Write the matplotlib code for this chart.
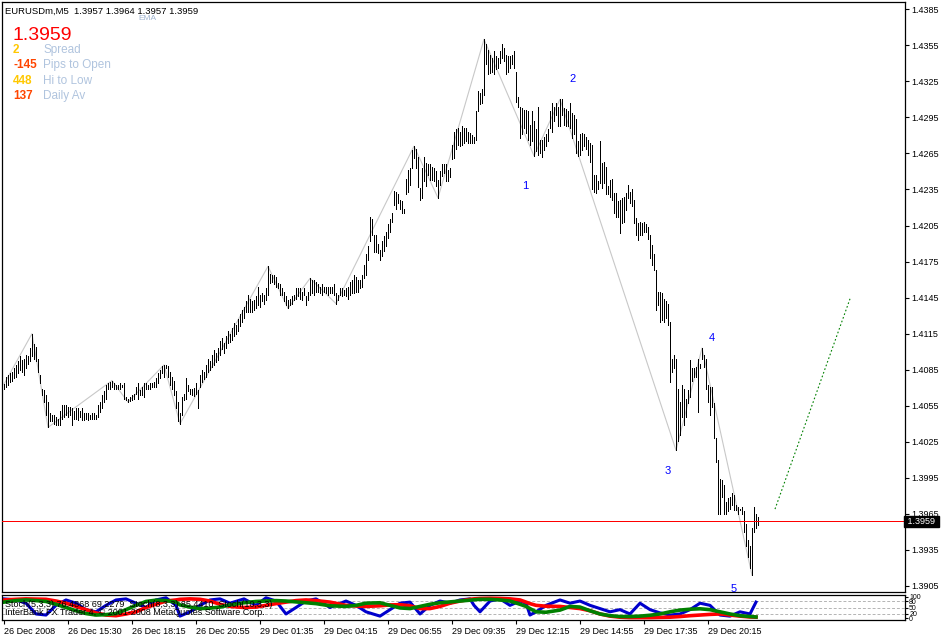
import numpy as np
import matplotlib.pyplot as plt

plt.rcParams['font.family'] = ['Liberation Sans', 'DejaVu Sans']

# price data in pips above BASE (EURUSD, M5 bars)
BASE = 1.3900
highs = [173, 179, 181, 182, 183, 186, 189, 192, 196, 193, 194, 197, 196, 203, 215, 206, 204, 194, 181, 169,
         168, 164, 158, 149, 147, 147, 146, 144, 151, 156, 156, 156, 154, 154, 153, 151, 153, 153, 151, 153,
         149, 149, 149, 147, 149, 149, 147, 156, 158, 164, 167, 172, 174, 175, 176, 174, 172, 172, 174, 172,
         174, 162, 161, 162, 164, 165, 171, 174, 168, 171, 174, 174, 172, 174, 174, 175, 178, 182, 185, 188,
         189, 189, 188, 183, 179, 176, 167, 158, 149, 162, 165, 178, 172, 169, 169,
         170, 174, 168, 181, 185, 183, 189, 194, 192, 197, 201, 199, 203, 209, 211, 207, 213, 217, 215, 220,
         224, 222, 227, 231, 235, 237,
         242, 247, 244, 242, 243, 246, 254, 247, 249, 247, 253, 271, 265, 264, 264, 262, 257, 256, 253, 250,
         246, 243, 244, 246, 247, 253, 253, 253, 250, 253, 246, 250, 261, 260, 260, 258, 256, 254, 256, 254,
         254, 254, 254, 254, 256, 249, 247, 253, 253, 251, 253, 254, 258, 260, 264, 262, 260, 260, 264, 272,
         281, 288, 312, 310, 297, 297, 290, 285,
         292, 296, 300, 306, 310,
         315, 334, 333, 331, 326, 325, 319, 344, 351, 353, 368, 371, 369, 362, 336, 353, 362, 357, 356, 356,
         354, 353, 350, 343, 350, 356, 356, 356, 351, 353, 372, 383, 385, 386, 383, 388, 386, 386, 383, 382,
         380, 379, 400, 417, 415, 419, 460, 456, 451, 447, 444, 450, 446, 444, 450, 456, 453, 447, 446, 446,
         447, 450, 433, 412, 404, 403, 401, 401, 400, 389, 400, 392, 385, 404, 376, 376, 379, 381, 385, 400,
         407, 404, 407, 404, 410, 410, 403, 402, 400, 407,
         399, 397, 394, 375, 381, 382, 381, 379, 376, 374, 372, 347, 347, 342, 375, 357, 358, 354, 338, 343,
         344, 332, 332, 325, 326, 328, 329, 332, 339, 333, 335, 326, 311, 307, 308, 307, 308, 306, 304, 297,
         289, 281, 268, 250, 250, 249, 244, 242, 240, 225, 194, 197, 194, 169, 158, 172, 169, 161, 168, 193,
         186, 186, 187, 194, 190, 203, 197, 194, 172, 171, 171, 157, 128, 110, 94, 93, 89, 75, 78, 79,
         82, 81, 72, 71, 69, 71, 67, 57, 43, 38, 53, 71, 65, 62]
lows = [169, 171, 172, 175, 176, 178, 179, 182, 185, 183, 181, 186, 190, 192, 196, 194, 192, 183, 174, 164,
        158, 147, 137, 142, 142, 140, 139, 139, 139, 144, 146, 147, 146, 147, 139, 144, 144, 143, 146, 143,
        143, 144, 143, 144, 144, 144, 144, 146, 150, 153, 158, 161, 169, 169, 171, 169, 169, 169, 169, 171,
        161, 160, 158, 159, 160, 161, 165, 161, 164, 164, 162, 169, 169, 169, 171, 171, 171, 174, 178, 182,
        179, 186, 179, 172, 169, 164, 153, 142, 140, 147, 160, 161, 167, 165, 164,
        163, 165, 153, 171, 175, 177, 179, 183, 185, 187, 189, 191, 193, 197, 202, 199, 203, 207, 208, 210,
        213, 215, 217, 221, 225, 228,
        233, 233, 233, 233, 235, 236, 239, 237, 242, 240, 243, 247, 257, 258, 256, 254, 253, 247, 247, 242,
        239, 236, 239, 240, 243, 244, 246, 244, 243, 247, 239, 243, 247, 249, 247, 250, 250, 249, 247, 250,
        249, 247, 249, 249, 247, 240, 243, 247, 246, 247, 246, 244, 247, 249, 249, 250, 250, 253, 254, 261,
        264, 276, 292, 297, 283, 283, 282, 276,
        280, 284, 288, 295, 300,
        308, 322, 319, 324, 319, 315, 315, 331, 333, 339, 353, 361, 353, 337, 326, 328, 342, 338, 347, 343,
        343, 342, 338, 328, 339, 346, 349, 342, 342, 345, 360, 361, 369, 372, 371, 372, 374, 375, 374, 374,
        374, 374, 376, 400, 406, 407, 414, 439, 431, 432, 433, 431, 435, 436, 440, 444, 442, 431, 433, 436,
        439, 436, 408, 404, 378, 381, 386, 382, 376, 372, 375, 363, 367, 364, 365, 362, 368, 371, 375, 386,
        383, 392, 397, 388, 388, 397, 389, 388, 388, 386,
        378, 381, 365, 363, 364, 368, 371, 369, 364, 358, 335, 333, 332, 335, 340, 336, 340, 331, 331, 329,
        326, 315, 312, 312, 299, 307, 308, 318, 328, 324, 321, 307, 297, 293, 297, 297, 300, 300, 294, 278,
        272, 268, 235, 239, 225, 226, 225, 228, 222, 175, 183, 186, 118, 126, 131, 146, 139, 146, 157, 162,
        176, 179, 179, 150, 186, 194, 187, 169, 158, 147, 154, 128, 108, 65, 65, 79, 65, 65, 67, 69,
        72, 68, 68, 65, 68, 65, 50, 38, 29, 20, 14, 50, 53, 56]

# zigzag pivots (bar index, high/low)
zz_bars = [0, 14, 22, 54, 62, 80, 88, 132, 142, 153, 166, 205, 217, 240, 265, 278, 336, 349, 374]
zz_kind = ['H', 'H', 'L', 'H', 'L', 'H', 'L', 'H', 'L', 'H', 'L', 'H', 'L', 'H', 'L', 'H', 'L', 'H', 'L']

# elliott wave labels (bar, pips)
wave_text = ['1', '2', '3', '4', '5']
wave_bar = [260.5, 284.5, 332, 354, 365]
wave_pip = [338, 427, 101, 211, 2.5]

# projected move (bar, pips)
proj_bar = [385.5, 423]
proj_pip = [69, 244]

current_price = 1.3959
price_ticks = [1.3905 + 0.003 * k for k in range(17)]

time_labels = ['26 Dec 2008', '26 Dec 15:30', '26 Dec 18:15', '26 Dec 20:55', '29 Dec 01:35',
               '29 Dec 04:15', '29 Dec 06:55', '29 Dec 09:35', '29 Dec 12:15', '29 Dec 14:55',
               '29 Dec 17:35', '29 Dec 20:15']
time_bars = [0, 32, 64, 96, 128, 160, 192, 224, 256, 288, 320, 352]

# stochastic lines (sampled bars, values 0-100)
st_bars = [0, 6, 11, 16, 21, 26, 31, 36, 41, 46, 51, 56, 61, 66, 71, 76, 81, 86, 88, 93, 98, 103, 108, 113,
           120, 126, 131, 136, 141, 146, 151, 156, 163, 171, 176, 181, 188, 193, 198, 203, 208, 213, 218, 223,
           228, 233, 235, 238, 243, 248, 253, 258, 261, 263, 266, 271, 278, 283, 288, 293, 298, 303, 308, 313,
           318, 323, 328, 333, 338, 343, 348, 353, 358, 363, 368, 373, 376]
st_blue = [90, 85, 70, 20, 15, 60, 85, 70, 40, 30, 60, 85, 90, 70, 50, 85, 95, 60, 10, 30, 60, 85, 90, 70,
           90, 60, 95, 80, 20, 50, 80, 90, 50, 80, 60, 30, 10, 40, 70, 75, 20, 60, 80, 70, 85, 90, 60, 30, 80,
           90, 60, 80, 70, 15, 30, 60, 85, 70, 80, 60, 45, 30, 40, 20, 70, 40, 25, 15, 20, 40, 70, 60, 15, 10,
           30, 20, 75]
st_red = [85, 88, 90, 89, 88, 80, 70, 55, 40, 25, 15, 12, 20, 30, 50, 65, 80, 85, 88, 90, 88, 80, 65, 55,
          50, 52, 60, 68, 75, 82, 85, 82, 75, 60, 57, 55, 58, 62, 63, 58, 45, 45, 55, 70, 80, 88, 90, 92, 93,
          92, 90, 85, 75, 68, 60, 56, 55, 50, 45, 35, 20, 10, 5, 3, 3, 3, 4, 5, 8, 12, 15, 18, 20, 15, 10, 6, 5]
st_green = [75, 82, 85, 82, 78, 65, 50, 35, 22, 15, 17, 22, 40, 60, 78, 84, 82, 75, 62, 52, 45, 47, 52, 62,
            72, 78, 80, 82, 80, 76, 72, 68, 58, 55, 60, 70, 72, 60, 48, 45, 55, 65, 72, 76, 80, 84, 86, 88, 88,
            85, 80, 65, 55, 45, 30, 28, 38, 55, 52, 35, 20, 12, 8, 8, 10, 14, 20, 30, 38, 42, 44, 40, 30, 20,
            12, 8, 6]


def pips(p):
    return BASE + np.asarray(p, dtype=float) / 10000.0


fig = plt.figure(figsize=(9.43, 6.36), dpi=100)
W, H = 943.0, 636.0
ax = fig.add_axes([2 / W, 44 / H, 903 / W, 590 / H])
ind = fig.add_axes([2 / W, 16 / H, 903 / W, 25 / H], sharex=ax)

n = len(highs)
x = np.arange(n)
hi = pips(highs)
lo = pips(lows)

# zigzag
zz_y = [hi[b] if k == 'H' else lo[b] for b, k in zip(zz_bars, zz_kind)]
ax.plot(zz_bars, zz_y, color='#c8c8c8', lw=0.8, zorder=1)

# bars, 1 px wide
ax.vlines(x, lo, hi, color='black', lw=0.72, antialiased=False, zorder=2)

ax.axhline(current_price, color='#ff0000', lw=0.72, antialiased=False, zorder=3)
ax.plot(proj_bar, pips(proj_pip), color='green', lw=0.8, ls=(0, (1.5, 2)), zorder=3)

for t, b, p in zip(wave_text, wave_bar, wave_pip):
    ax.text(b, pips(p), t, color='blue', fontsize=8, ha='center', va='center')

ax.set_xlim(-1, 450.5)
ax.set_ylim(1.3900, 1.4391)
ax.yaxis.tick_right()
ax.set_yticks(price_ticks)
ax.set_yticklabels(['%.4f' % v for v in price_ticks])
ax.tick_params(axis='y', labelsize=6.5, length=3, width=0.8, pad=1.5)
ax.tick_params(axis='x', bottom=False, labelbottom=False)
for s in ax.spines.values():
    s.set_linewidth(0.9)
ax.text(1.0, current_price, ' 1.3959 ', transform=ax.get_yaxis_transform(), color='white',
        fontsize=6.5, ha='left', va='center', zorder=5,
        bbox=dict(facecolor='black', edgecolor='black', pad=0.8))

# indicator window
for lvl in [80, 50, 20]:
    ind.axhline(lvl, color='#b4b4b4', lw=0.7, ls=(0, (3, 2)))
ind.plot(st_bars, st_blue, color='#0000cc', lw=2.2)
ind.plot(st_bars, st_red, color='#ff0000', lw=2.6)
ind.plot(st_bars, st_green, color='#008000', lw=2.6)
ind.set_ylim(-8, 108)
ind.yaxis.tick_right()
ind.set_yticks([100, 80, 50, 20, 0])
ind.set_yticklabels(['100', '80', '50', '20', '0'])
ind.tick_params(axis='y', labelsize=5, length=2, pad=1)
ind.set_xticks(time_bars)
ind.set_xticklabels(time_labels, ha='left')
ind.tick_params(axis='x', labelsize=6.5, length=3, width=0.8, pad=2)
for s in ind.spines.values():
    s.set_linewidth(0.9)
ind.text(0.003, 0.62, 'Stoch(5,3,3) 76.4868 69.2279  Stoch(8,3,3) 85.4410  Stoch(10,3,3)',
         transform=ind.transAxes, fontsize=6.5, va='center', color='black')
ind.text(0.003, 0.3, 'InterBank FX Trader 4, \u00a9 2001-2008 MetaQuotes Software Corp.',
         transform=ind.transAxes, fontsize=6.5, va='center', color='black')

# header texts
fig.text(5 / W, 1 - 11 / H, 'EURUSDm,M5  1.3957 1.3964 1.3957 1.3959', fontsize=6.8, va='center')
fig.text(138 / W, 1 - 18 / H, 'EMA', fontsize=6, va='center', color='#a0b4d0')
fig.text(12 / W, 1 - 35 / H, '1.3959', fontsize=14, va='center', color='red')
rows = [('2', '#ffc800', 'Spread'), ('-145', '#ff4500', 'Pips to Open'),
        ('448', '#ffc800', 'Hi to Low'), ('137', '#ff4500', 'Daily Av')]
for k, (num, col, lab) in enumerate(rows):
    yy = 50 + 15.3 * k
    fig.text(13 / W, 1 - yy / H, num, fontsize=8.5, va='center', color=col, fontweight='bold')
    fig.text(43 / W, 1 - yy / H, lab, fontsize=8.5, va='center', color='#b0c4de')

fig.savefig('out.png', dpi=100, facecolor='white')
